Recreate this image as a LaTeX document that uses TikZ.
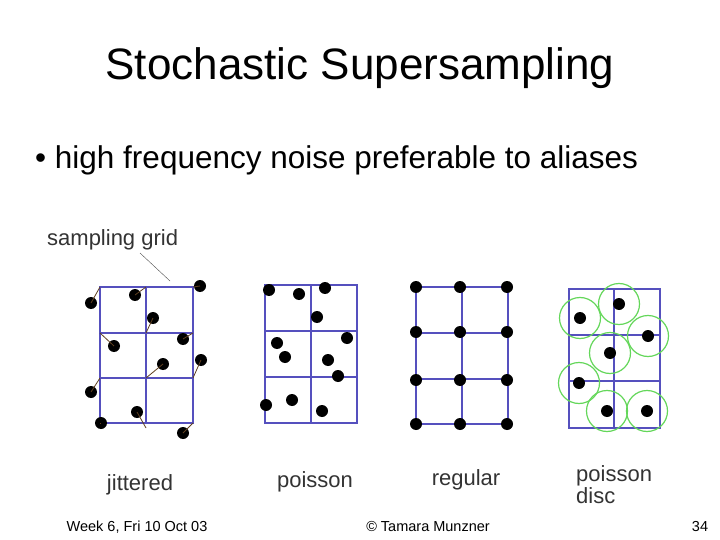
\documentclass[tikz,border=0pt]{standalone}
\usepackage{fontspec}
\setmainfont{Liberation Sans}
\definecolor{gridc}{RGB}{85,80,190}
\definecolor{discc}{RGB}{100,215,90}
\begin{document}
\begin{tikzpicture}[x=1pt,y=-1pt,
 grid/.style={draw=gridc,line width=1.4pt},
 dot/.style={circle,fill=black,inner sep=0pt,minimum size=12pt},
 jit/.style={draw=brown!50!black,line width=0.8pt},
 disc/.style={draw=discc,line width=1.2pt},
 lab/.style={font=\fontsize{22}{24}\selectfont,text=black!80}]
\useasboundingbox[fill=white] (0,0) rectangle (720,540);
\node (title) at (360,68) {\fontsize{44}{48}\selectfont Stochastic Supersampling};
\node[anchor=west,inner sep=0pt] (bul) at (35,160) {\fontsize{31.5}{34}\selectfont • high frequency noise preferable to aliases};
% jittered
\node[lab,anchor=west,inner sep=0pt] (sg) at (47,240) {sampling grid};
\coordinate (sga) at (140,253); \coordinate (sgb) at (170,281);
\draw[black!70] (sga)--(sgb);
\draw[grid] (100,287) rectangle (193,423);
\draw[grid] (146,287)--(146,423) (100,333)--(193,333) (100,378)--(193,378);
\foreach \dx/\dy/\gx/\gy [count=\i] in {91/303/100/287,135/295/146/287,200/286/193/287,153/318/146/333,114/346/100/333,183/339/193/333,163/364/146/378,201/360/193/378,91/392/100/378,137/412/146/428,101/423/100/423,183/433/193/423}{
 \coordinate (g\i) at (\gx,\gy);
 \node[dot] (j\i) at (\dx,\dy) {};
 \draw[jit] (j\i.center)--(g\i);
}
\node[lab] (l1) at (140,485) {jittered};
% poisson
\draw[grid] (265,285) rectangle (357,423);
\draw[grid] (311,285)--(311,423) (265,331)--(357,331) (265,377)--(357,377);
\foreach \x/\y [count=\i] in {269/290,299/294,325/288,317/317,277/343,285/357,347/338,328/360,338/376,266/405,292/400,322/411}
 \node[dot] (p\i) at (\x,\y) {};
\node[lab] (l2) at (315,482) {poisson};
% regular
\draw[grid] (416,287) rectangle (508,424);
\draw[grid] (462,287)--(462,424) (416,333)--(508,333) (416,379)--(508,379);
\foreach \x in {416,460,507}\foreach \y in {287,332,380,424}
 \node[dot] (r\x\y) at (\x,\y) {};
\node[lab] (l3) at (466,480) {regular};
% poisson disc
\draw[grid] (569,289) rectangle (660,428);
\draw[grid] (614,289)--(614,428) (569,335)--(660,335) (569,381)--(660,381);
\foreach \x/\y [count=\i] in {580/318,619/304,648/336,610/353,579/383,607/411,647/411}{
 \node[dot] (d\i) at (\x,\y) {};
 \draw[disc] (d\i.center) circle (20.5);
}
\node[lab,anchor=west,inner sep=0pt] (l4) at (576,476) {poisson};
\node[lab,anchor=west,inner sep=0pt] (l5) at (576,496) {disc};
% footer
\node (f1) at (137,527) {\fontsize{14.5}{15}\selectfont Week 6, Fri 10 Oct 03};
\node (f2) at (428,527) {\fontsize{14.5}{15}\selectfont © Tamara Munzner};
\node (f3) at (700,527) {\fontsize{14.5}{15}\selectfont 34};
\end{tikzpicture}
\end{document}
